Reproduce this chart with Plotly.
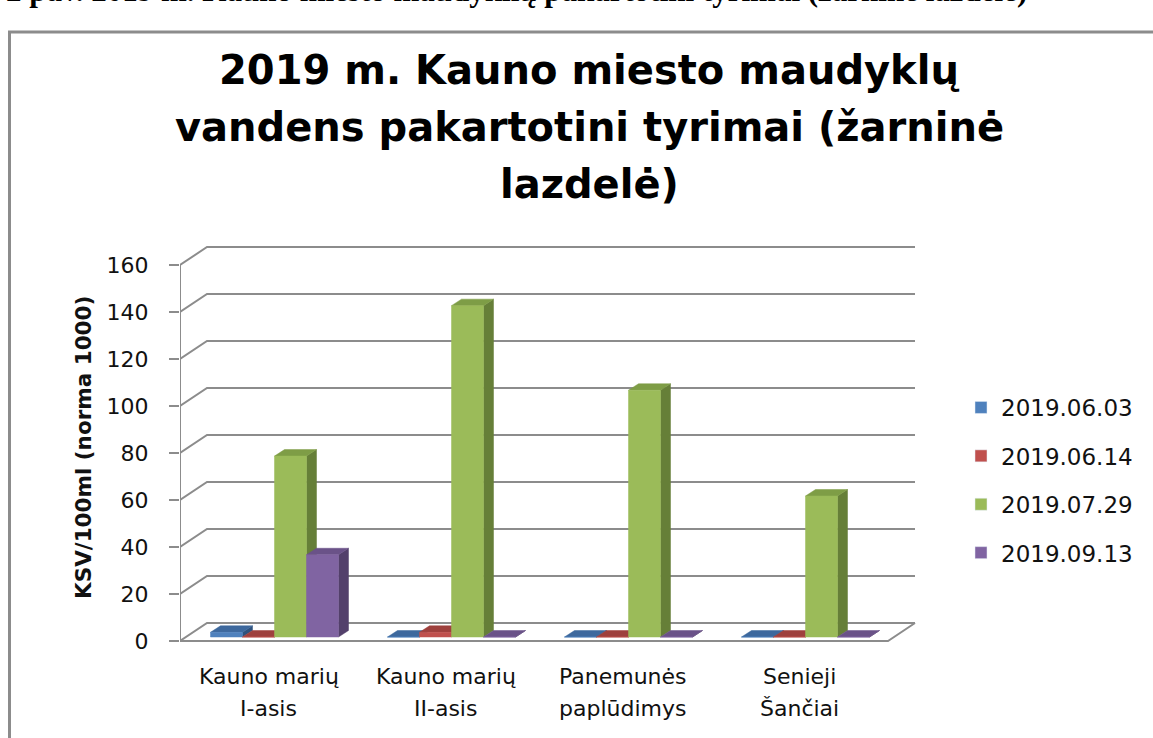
import plotly.graph_objects as go

# ---------------- data ----------------
categories = ["Kauno marių\nI-asis", "Kauno marių\nII-asis", "Panemunės\npaplūdimys", "Senieji\nŠančiai"]
series_names = ["2019.06.03", "2019.06.14", "2019.07.29", "2019.09.13"]
v_20190603 = [2, 0, 0, 0]
v_20190614 = [0, 2, 0, 0]
v_20190729 = [77, 141, 105, 60]
v_20190913 = [35, 0, 0, 0]
y_ticks = [0, 20, 40, 60, 80, 100, 120, 140, 160]

title_lines = ["2019 m. Kauno miesto maudyklų", "vandens pakartotini tyrimai (žarninė", "lazdelė)"]
y_title = "KSV/100ml (norma 1000)"
caption = "2 pav. 2019 m. Kauno miesto maudyklių pakartotini tyrimai (žarninė lazdelė)"

series_values = [v_20190603, v_20190614, v_20190729, v_20190913]
# colours: front, top, side
colors = [
    ("#4F81BD", "#3D689D", "#2F527D"),
    ("#C0504D", "#9E403D", "#7E3230"),
    ("#9BBB59", "#7E9D46", "#667F38"),
    ("#8064A2", "#6A5288", "#53406B"),
]

# ---------------- geometry (pixels) ----------------
W, H = 1153, 738
L, R, T, B = 180, 930, 230, 650
ZERO_PX = 641
PX_CAT = 177.0          # px per category
PX_VAL = 2.35           # px per value unit
DEPTH_X, DEPTH_Y = 27, 18
BAR_W = 32
BAR_GAP = 24.5
BAR_SHIFT_X, BAR_SHIFT_Y = 6, 4
BAR_DX, BAR_DY = 10, 6.5

n = len(categories)
xr = [-0.5, -0.5 + (R - L) / PX_CAT]
yr = [-(B - ZERO_PX) / PX_VAL, (ZERO_PX - T) / PX_VAL]


def ux(px):
    return px / PX_CAT


def uy(px):
    return px / PX_VAL


def paper_x(px):
    return (px - L) / (R - L)


def paper_y(py):
    return (B - py) / (B - T)


GRID = "#8C8C8C"
fig = go.Figure()

# back wall gridlines with diagonal connectors
gx, gy = [], []
x_left, x_right = -0.5, n - 0.5
for v in y_ticks:
    gx += [x_left, x_left + ux(DEPTH_X), x_right + ux(DEPTH_X), None]
    gy += [v, v + uy(DEPTH_Y), v + uy(DEPTH_Y), None]
# floor front edge and right edge, front value axis
gx += [x_left, x_right, x_right + ux(DEPTH_X), None, x_left, x_left]
gy += [0, 0, uy(DEPTH_Y), None, 0, max(y_ticks)]
fig.add_trace(go.Scatter(x=gx, y=gy, mode="lines", line=dict(color=GRID, width=2),
                         hoverinfo="skip", showlegend=False))

# 3D columns
for k, (vals, (c_front, c_top, c_side)) in enumerate(zip(series_values, colors)):
    fx, fy, tx, ty, sx, sy = [], [], [], [], [], []
    for i, v in enumerate(vals):
        x0 = i - 0.5 + ux(BAR_SHIFT_X + BAR_GAP + BAR_W * k)
        x1 = x0 + ux(BAR_W)
        y0 = uy(BAR_SHIFT_Y)
        y1 = y0 + v
        ddx, ddy = ux(BAR_DX), uy(BAR_DY)
        fx += [x0, x1, x1, x0, x0, None]
        fy += [y0, y0, y1, y1, y0, None]
        tx += [x0, x1, x1 + ddx, x0 + ddx, x0, None]
        ty += [y1, y1, y1 + ddy, y1 + ddy, y1, None]
        sx += [x1, x1 + ddx, x1 + ddx, x1, x1, None]
        sy += [y0, y0 + ddy, y1 + ddy, y1, y0, None]
    for xs, ys, col in ((sx, sy, c_side), (tx, ty, c_top), (fx, fy, c_front)):
        fig.add_trace(go.Scatter(x=xs, y=ys, mode="lines", fill="toself", fillcolor=col,
                                 line=dict(color=col, width=0.5), hoverinfo="skip",
                                 showlegend=False))

# legend entries
for k, name in enumerate(series_names):
    fig.add_trace(go.Bar(x=[None], y=[None], name=name, marker=dict(color=colors[k][0]),
                         legendgroup=name, showlegend=True))

ann = []
# chart title, one annotation per line
for j, line in enumerate(title_lines):
    ann.append(dict(x=paper_x(589), y=paper_y(70 + 57 * j), xref="paper", yref="paper",
                    text="<b>" + line + "</b>", showarrow=False, xanchor="center", yanchor="middle",
                    font=dict(family="DejaVu Sans", size=40, color="#000000")))
# category labels (two lines each)
for i, c in enumerate(categories):
    lines = c.split("\n")
    for j, line in enumerate(lines):
        ann.append(dict(x=i, y=paper_y(676 + 32 * j), xref="x", yref="paper", text=line,
                        showarrow=False, xanchor="center", yanchor="middle",
                        font=dict(family="DejaVu Sans", size=22, color="#111111")))
# y axis title
ann.append(dict(x=paper_x(83), y=paper_y(448), xref="paper", yref="paper", text="<b>" + y_title + "</b>",
                textangle=-90, showarrow=False, xanchor="center", yanchor="middle",
                font=dict(family="DejaVu Sans", size=21.5, color="#111111")))
# caption (partly cut at top of page)
ann.append(dict(x=paper_x(4), y=paper_y(-10), xref="paper", yref="paper", text="<b>" + caption + "</b>",
                showarrow=False, xanchor="left", yanchor="middle",
                font=dict(family="Liberation Serif", size=31, color="#000000")))

fig.update_layout(
    width=W, height=H,
    margin=dict(l=L, r=W - R, t=T, b=H - B),
    paper_bgcolor="white", plot_bgcolor="rgba(0,0,0,0)",
    xaxis=dict(range=xr, showgrid=False, zeroline=False, showline=False, showticklabels=False,
               ticks="", fixedrange=True),
    yaxis=dict(range=yr, tickvals=y_ticks, ticktext=[str(t) for t in y_ticks], showgrid=False,
               zeroline=False, showline=False, ticks="outside", ticklen=10, tickwidth=2,
               tickcolor=GRID, tickfont=dict(family="DejaVu Sans", size=22, color="#111111"),
               ticklabelstandoff=16, fixedrange=True),
    legend=dict(x=paper_x(961), y=paper_y(386), xanchor="left", yanchor="top",
                font=dict(family="DejaVu Sans", size=23, color="#111111"),
                tracegroupgap=15.5, bgcolor="rgba(0,0,0,0)"),
    barmode="overlay",
    annotations=ann,
    shapes=[dict(type="rect", xref="paper", yref="paper",
                 x0=paper_x(9.5), x1=paper_x(1170), y0=paper_y(32), y1=paper_y(760),
                 line=dict(color="#8C8C8C", width=3), fillcolor="rgba(0,0,0,0)", layer="below")],
    showlegend=True,
)

fig.write_html("out.html", config={"displayModeBar": False},
               post_script="document.body.style.margin='0px';document.body.style.overflow='hidden';")
